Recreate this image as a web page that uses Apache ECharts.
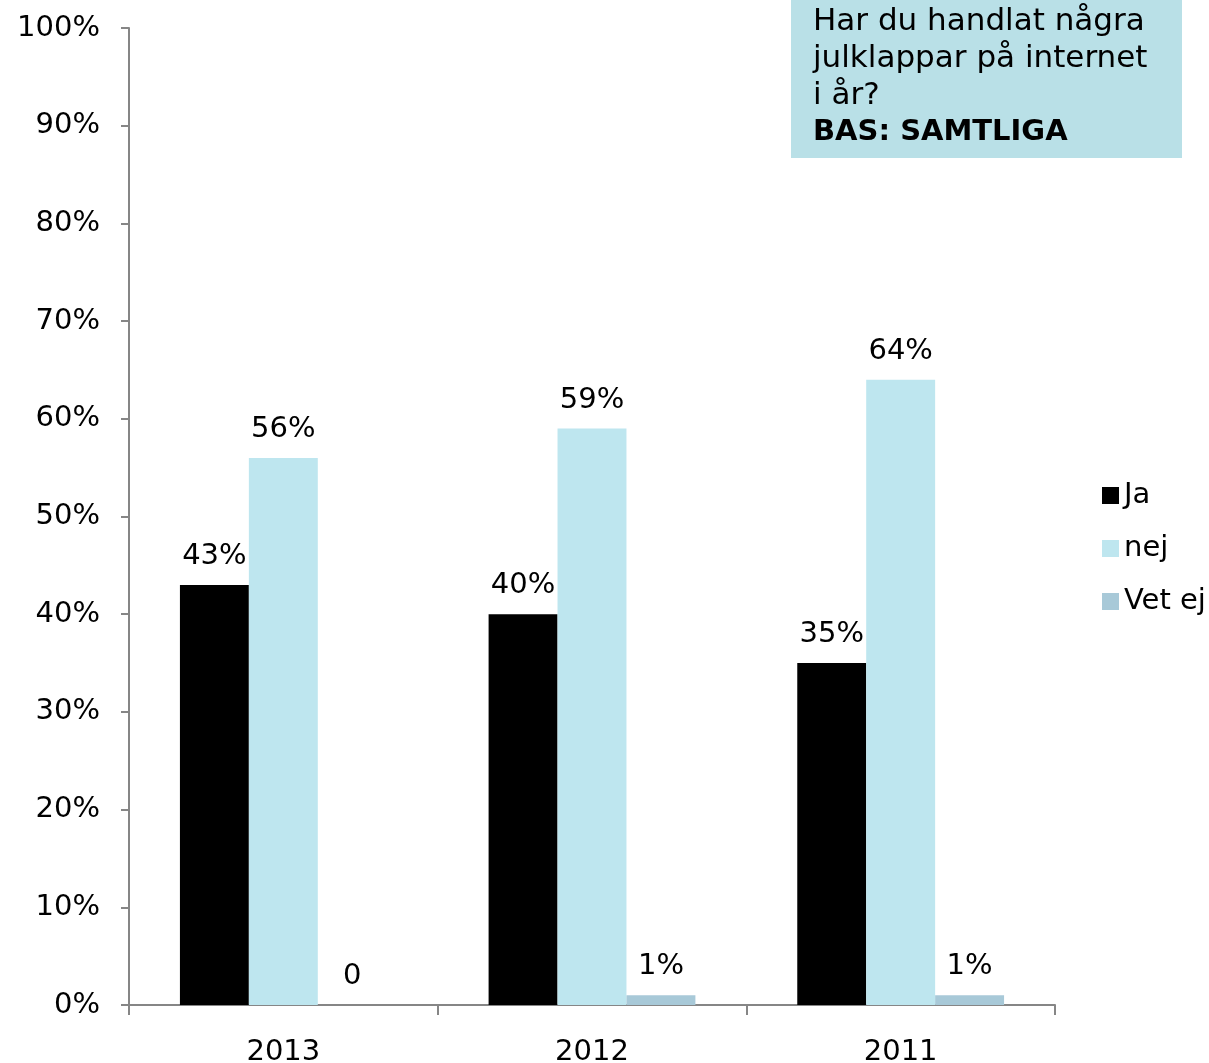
<!DOCTYPE html>
<html><head><meta charset="utf-8">
<script src="https://cdn.jsdelivr.net/npm/echarts@6/dist/echarts.min.js"></script>
<style>html,body{margin:0;padding:0;background:#fff}#c{width:1209px;height:1063px}</style>
</head><body><div id="c"></div>
<script>
var categories = ['2013', '2012', '2011'];
var seriesNames = ['Ja', 'nej', 'Vet ej'];
var jaValues = [43, 40, 35];
var nejValues = [56, 59, 64];
var vetEjValues = [0, 1, 1];
var yTicks = [0, 10, 20, 30, 40, 50, 60, 70, 80, 90, 100];
var colors = ['#000000', '#BEE6EF', '#A8C9D8'];
var FONT = '"DejaVu Sans", Verdana, sans-serif';

var chart = echarts.init(document.getElementById('c'));
function lbl(p){ return p.value === 0 ? '0' : p.value + '%'; }
var data = [jaValues, nejValues, vetEjValues];
var series = seriesNames.map(function(n, i){
  return {
    name: n, type: 'bar', data: data[i], barGap: '0%', barCategoryGap: '33%',
    itemStyle: {color: colors[i]},
    label: {show: true, position: 'top', distance: 14, formatter: lbl,
      color: '#000', fontFamily: FONT, fontSize: 29},
    emphasis: {disabled: true}
  };
});
chart.setOption({
  animation: false,
  grid: {left: 129, right: 154, top: 28, bottom: 58, containLabel: false, outerBoundsMode: 'none'},
  legend: {
    orient: 'vertical', left: 1097, top: 476, itemWidth: 17, itemHeight: 17, itemGap: 24,
    icon: 'rect', data: seriesNames,
    textStyle: {fontFamily: FONT, fontSize: 29, color: '#000'}
  },
  xAxis: {
    type: 'category', data: categories,
    axisLine: {lineStyle: {color: '#868686', width: 2}},
    axisTick: {show: true, length: 10, lineStyle: {color: '#868686', width: 2}},
    axisLabel: {fontFamily: FONT, fontSize: 29, color: '#000', margin: 33}
  },
  yAxis: {
    type: 'value', min: 0, max: 100, interval: 10,
    axisLine: {show: true, lineStyle: {color: '#868686', width: 2}},
    axisTick: {show: true, length: 8, lineStyle: {color: '#868686', width: 2}},
    splitLine: {show: false},
    axisLabel: {fontFamily: FONT, fontSize: 29, color: '#000', margin: 29,
      formatter: function(v){ return yTicks.indexOf(v) >= 0 ? v + '%' : ''; }}
  },
  graphic: [{
    type: 'group', left: 791, top: 0,
    children: [
      {type: 'rect', shape: {x: 0, y: 0, width: 391, height: 158}, style: {fill: '#B9E0E7'}},
      {type: 'text', left: 22, top: 3, style: {
        text: 'Har du handlat några\njulklappar på internet\ni år?\n{b|BAS: SAMTLIGA}',
        fontFamily: FONT, fontSize: 31, lineHeight: 37, fill: '#000',
        rich: {b: {fontWeight: 'bold', fontFamily: FONT, fontSize: 29, lineHeight: 37}}
      }}
    ]
  }],
  series: series
});
</script></body></html>
